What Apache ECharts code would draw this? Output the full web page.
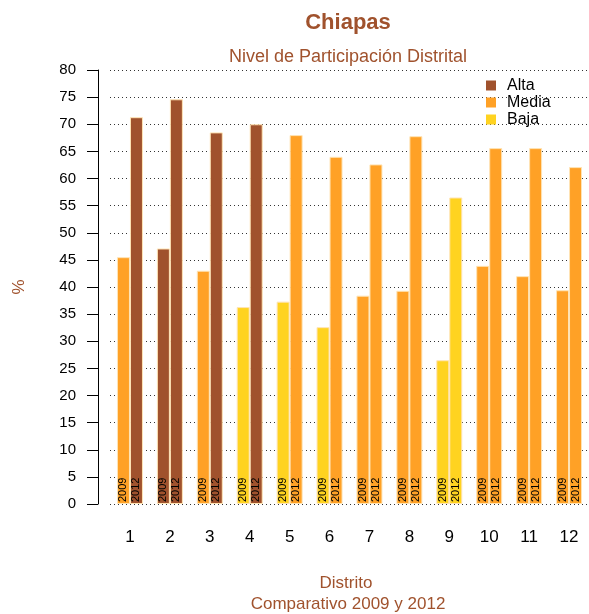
<!DOCTYPE html>
<html>
<head>
<meta charset="utf-8">
<script src="https://cdn.jsdelivr.net/npm/echarts@6/dist/echarts.min.js"></script>
<style>html,body{margin:0;padding:0;background:#fff;}#c{width:589px;height:614px;}</style>
</head>
<body>
<div id="c"></div>
<script>
const districts = ['1','2','3','4','5','6','7','8','9','10','11','12'];
const values2009 = [45.5, 47.1, 43.0, 36.3, 37.3, 32.6, 38.4, 39.3, 26.5, 43.9, 42.0, 39.4];
const values2012 = [71.3, 74.6, 68.5, 70.0, 68.0, 64.0, 62.6, 67.8, 56.5, 65.6, 65.6, 62.1];
const level2009 = ['Media','Alta','Media','Baja','Baja','Baja','Media','Media','Baja','Media','Media','Media'];
const level2012 = ['Alta','Alta','Alta','Alta','Media','Media','Media','Media','Baja','Media','Media','Media'];
const levels = ['Alta','Media','Baja'];
const yTicks = [0,5,10,15,20,25,30,35,40,45,50,55,60,65,70,75,80];

const levelColors = {Alta:'#A0522D', Media:'#FFA126', Baja:'#FFD320'};
const sienna = '#A0522D';
const font = 'Liberation Sans, Arial, sans-serif';

function barData(vals, lv) {
  return vals.map((v, i) => ({value: v, itemStyle: {color: levelColors[lv[i]]}}));
}
function barLabel(txt) {
  return {
    show: true, position: 'insideBottom', rotate: 90, align: 'left', verticalAlign: 'middle',
    distance: 2, formatter: txt, fontSize: 11, color: '#000', fontFamily: font
  };
}

const chart = echarts.init(document.getElementById('c'), null, {renderer: 'canvas'});
chart.setOption({
  animation: false,
  backgroundColor: '#fff',
  title: [
    {text: 'Chiapas', left: 348, top: 12, textAlign: 'center', padding: 0,
     textStyle: {fontSize: 22, fontWeight: 'bold', color: sienna, fontFamily: font}},
    {text: 'Nivel de Participación Distrital', left: 348, top: 48, textAlign: 'center', padding: 0,
     textStyle: {fontSize: 18, fontWeight: 'normal', color: sienna, fontFamily: font}},
    {text: 'Distrito', left: 346, top: 575, textAlign: 'center', padding: 0,
     textStyle: {fontSize: 17, fontWeight: 'normal', color: sienna, fontFamily: font}},
    {text: 'Comparativo 2009 y 2012', left: 348, top: 596, textAlign: 'center', padding: 0,
     textStyle: {fontSize: 17, fontWeight: 'normal', color: sienna, fontFamily: font}}
  ],
  legend: {
    data: levels, orient: 'vertical', left: 486, top: 77, padding: 0, itemGap: 0,
    icon: 'rect', itemWidth: 10, itemHeight: 10, selectedMode: false,
    textStyle: {fontSize: 16, lineHeight: 17, color: '#000', fontFamily: font, padding: [0,0,0,6]}
  },
  grid: {left: 110, right: 0, top: 70, bottom: 110, outerBoundsMode: 'none', containLabel: false},
  xAxis: {
    type: 'category', data: districts,
    axisLine: {show: false}, axisTick: {show: false},
    axisLabel: {fontSize: 17, color: '#000', margin: 25, fontFamily: font}
  },
  yAxis: {
    type: 'value', min: yTicks[0], max: yTicks[yTicks.length-1], interval: 5, offset: 12,
    name: '%', nameLocation: 'middle', nameGap: 70, nameRotate: 90,
    nameTextStyle: {fontSize: 17, color: sienna, fontFamily: font},
    axisLine: {show: true, lineStyle: {color: '#000', width: 1}},
    axisTick: {show: true, length: 11, lineStyle: {color: '#000'}},
    axisLabel: {fontSize: 15, color: '#000', margin: 22, fontFamily: font},
    splitLine: {show: true, lineStyle: {color: '#333', width: 1, type: [1, 3]}}
  },
  series: [
    {name: '2009', type: 'bar', data: barData(values2009, level2009), barWidth: 13, barGap: '0%',
     itemStyle: {borderColor: '#FFE4B5', borderWidth: 1}, label: barLabel('2009')},
    {name: '2012', type: 'bar', data: barData(values2012, level2012), barWidth: 13, barGap: '0%',
     itemStyle: {borderColor: '#FFE4B5', borderWidth: 1}, label: barLabel('2012')},
    ...levels.map(l => ({name: l, type: 'line', data: [], itemStyle: {color: levelColors[l]}}))
  ]
});
</script>
</body>
</html>
